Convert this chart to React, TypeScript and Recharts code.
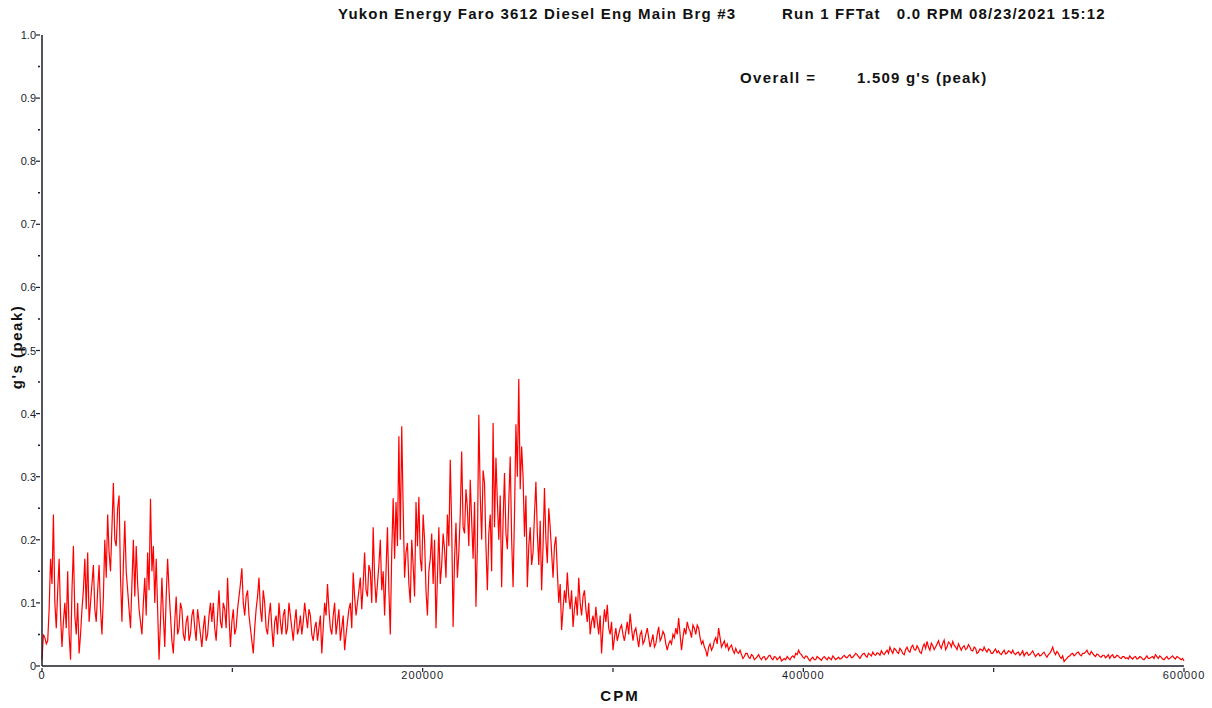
import { LineChart, Line, XAxis, YAxis } from "recharts";

// spectrum sampled every 750 CPM, 0 .. 600000 (one row = 30000 CPM)
const CPM_STEP = 750;
const peakG = [
  0.01,0.05, 0.045,0.035, 0.04,0.09, 0.17,0.13, 0.24,0.1, 0.06,0.12, 0.17,0.08, 0.03,0.07, 0.1,0.06, 0.15,0.05, 0.01,0.12, 0.19,0.08, 0.05,0.1, 0.02,0.05, 0.09,0.12, 0.17,0.09, 0.18,0.07, 0.1,0.13, 0.16,0.09, 0.07,0.12,
  0.16,0.09, 0.05,0.11, 0.2,0.14, 0.24,0.18, 0.15,0.22, 0.29,0.2, 0.19,0.25, 0.27,0.14, 0.07,0.16, 0.23,0.15, 0.12,0.09, 0.06,0.13, 0.2,0.11, 0.19,0.13, 0.09,0.07, 0.05,0.1, 0.14,0.08, 0.18,0.12, 0.265,0.15, 0.19,0.1,
  0.17,0.09, 0.01,0.07, 0.14,0.08, 0.03,0.11, 0.17,0.12, 0.08,0.04, 0.02,0.07, 0.11,0.05, 0.06,0.1, 0.09,0.05, 0.04,0.07, 0.08,0.04, 0.05,0.08, 0.09,0.06, 0.04,0.09, 0.07,0.05, 0.03,0.06, 0.08,0.04, 0.05,0.08, 0.1,0.07,
  0.1,0.06, 0.04,0.08, 0.12,0.07, 0.06,0.1, 0.09,0.06, 0.14,0.08, 0.03,0.07, 0.09,0.05, 0.06,0.09, 0.11,0.13, 0.155,0.1, 0.08,0.11, 0.12,0.08, 0.06,0.04, 0.02,0.06, 0.09,0.11, 0.14,0.09, 0.07,0.12, 0.1,0.06, 0.05,0.08,
  0.1,0.06, 0.03,0.07, 0.08,0.05, 0.1,0.07, 0.05,0.08, 0.09,0.05, 0.06,0.1, 0.08,0.06, 0.04,0.07, 0.09,0.05, 0.06,0.08, 0.05,0.07, 0.1,0.08, 0.06,0.09, 0.08,0.05, 0.04,0.06, 0.07,0.04, 0.06,0.08, 0.02,0.06, 0.1,0.08,
  0.13,0.09, 0.06,0.05, 0.08,0.1, 0.05,0.07, 0.09,0.04, 0.06,0.08, 0.025,0.05, 0.07,0.09, 0.1,0.06, 0.148,0.11, 0.08,0.1, 0.12,0.14, 0.09,0.13, 0.18,0.12, 0.11,0.16, 0.15,0.1, 0.22,0.14, 0.1,0.13, 0.16,0.2, 0.12,0.15,
  0.08,0.15, 0.22,0.12, 0.05,0.18, 0.266,0.17, 0.26,0.19, 0.364,0.2, 0.38,0.25, 0.14,0.18, 0.195,0.13, 0.1,0.2, 0.16,0.11, 0.26,0.19, 0.268,0.17, 0.15,0.24, 0.2,0.12, 0.08,0.15, 0.17,0.21, 0.13,0.2, 0.06,0.14, 0.22,0.13,
  0.16,0.21, 0.185,0.14, 0.24,0.19, 0.327,0.22, 0.062,0.17, 0.227,0.14, 0.18,0.24, 0.34,0.22, 0.21,0.28, 0.25,0.19, 0.295,0.23, 0.17,0.26, 0.094,0.19, 0.398,0.27, 0.2,0.31, 0.29,0.19, 0.12,0.21, 0.24,0.15, 0.385,0.22, 0.33,0.26,
  0.2,0.27, 0.125,0.23, 0.306,0.21, 0.185,0.26, 0.332,0.2, 0.125,0.24, 0.383,0.3, 0.455,0.28, 0.348,0.3, 0.205,0.27, 0.125,0.19, 0.22,0.16, 0.18,0.24, 0.292,0.21, 0.16,0.23, 0.12,0.19, 0.282,0.2, 0.163,0.25, 0.22,0.18, 0.14,0.19,
  0.205,0.15, 0.1,0.13, 0.057,0.09, 0.12,0.1, 0.148,0.11, 0.09,0.12, 0.062,0.09, 0.11,0.08, 0.14,0.1, 0.08,0.11, 0.12,0.09, 0.07,0.1, 0.05,0.07, 0.08,0.06, 0.094,0.07, 0.05,0.08, 0.02,0.06, 0.09,0.07, 0.097,0.06, 0.05,0.07,
  0.025,0.045, 0.06,0.04, 0.05,0.06, 0.065,0.05, 0.04,0.055, 0.07,0.05, 0.083,0.06, 0.04,0.055, 0.06,0.045, 0.03,0.05, 0.055,0.035, 0.04,0.05, 0.06,0.045, 0.03,0.04, 0.05,0.03, 0.035,0.05, 0.062,0.04, 0.045,0.055, 0.05,0.035, 0.025,0.035,
  0.04,0.035, 0.05,0.045, 0.06,0.05, 0.076,0.05, 0.025,0.045, 0.06,0.05, 0.07,0.06, 0.055,0.045, 0.065,0.06, 0.05,0.065, 0.06,0.045, 0.035,0.04, 0.03,0.025, 0.015,0.03, 0.035,0.025, 0.03,0.04, 0.045,0.035, 0.06,0.045, 0.03,0.035, 0.04,0.03,
  0.035,0.025, 0.03,0.033, 0.025,0.02, 0.028,0.022, 0.02,0.025, 0.018,0.012, 0.015,0.02, 0.02,0.014, 0.012,0.018, 0.016,0.01, 0.012,0.015, 0.018,0.013, 0.01,0.014, 0.015,0.01, 0.012,0.016, 0.017,0.012, 0.01,0.015, 0.014,0.01, 0.012,0.015, 0.008,0.01,
  0.012,0.01, 0.015,0.012, 0.01,0.014, 0.016,0.013, 0.02,0.018, 0.025,0.02, 0.018,0.014, 0.012,0.016, 0.015,0.011, 0.008,0.012, 0.014,0.01, 0.01,0.015, 0.013,0.011, 0.009,0.013, 0.015,0.012, 0.01,0.014, 0.012,0.01, 0.016,0.013, 0.01,0.012, 0.014,0.011,
  0.012,0.015, 0.017,0.014, 0.013,0.016, 0.018,0.013, 0.014,0.017, 0.02,0.018, 0.015,0.012, 0.016,0.019, 0.02,0.016, 0.014,0.02, 0.018,0.016, 0.022,0.018, 0.017,0.021, 0.02,0.017, 0.024,0.02, 0.018,0.022, 0.025,0.02, 0.03,0.024, 0.02,0.028, 0.026,0.022,
  0.02,0.028, 0.025,0.02, 0.018,0.026, 0.03,0.024, 0.022,0.03, 0.033,0.026, 0.025,0.032, 0.028,0.022, 0.02,0.03, 0.035,0.028, 0.039,0.03, 0.025,0.036, 0.032,0.026, 0.03,0.035, 0.04,0.032, 0.028,0.036, 0.041,0.026, 0.03,0.038, 0.036,0.03, 0.039,0.033,
  0.03,0.026, 0.035,0.03, 0.025,0.03, 0.032,0.026, 0.028,0.034, 0.03,0.025, 0.024,0.03, 0.028,0.02, 0.022,0.027, 0.026,0.024, 0.03,0.025, 0.022,0.027, 0.025,0.02, 0.02,0.024, 0.027,0.021, 0.024,0.02, 0.018,0.022, 0.025,0.019, 0.02,0.024, 0.023,0.02,
  0.025,0.02, 0.018,0.021, 0.022,0.017, 0.02,0.024, 0.016,0.02, 0.022,0.017, 0.018,0.021, 0.024,0.019, 0.015,0.018, 0.02,0.016, 0.017,0.02, 0.022,0.017, 0.014,0.018, 0.02,0.024, 0.03,0.022, 0.018,0.023, 0.02,0.015, 0.012,0.016, 0.007,0.01, 0.012,0.015,
  0.016,0.019, 0.02,0.016, 0.018,0.021, 0.022,0.018, 0.016,0.02, 0.02,0.022, 0.025,0.02, 0.018,0.023, 0.02,0.017, 0.015,0.019, 0.018,0.015, 0.014,0.017, 0.017,0.013, 0.015,0.018, 0.012,0.016, 0.018,0.013, 0.014,0.017, 0.016,0.013, 0.012,0.015, 0.015,0.012,
  0.013,0.011, 0.016,0.013, 0.011,0.014, 0.015,0.011, 0.012,0.015, 0.014,0.011, 0.01,0.013, 0.016,0.012, 0.012,0.014, 0.015,0.012, 0.018,0.015, 0.012,0.016, 0.014,0.011, 0.01,0.013, 0.015,0.011, 0.012,0.014, 0.016,0.013, 0.011,0.015, 0.014,0.012, 0.01,0.012, 0.008,
];

const xTicks = [0, 100000, 200000, 300000, 400000, 500000, 600000];
const xLabels = ["0", "", "200000", "", "400000", "", "600000"];
const yTicks = [0, 0.05, 0.1, 0.15, 0.2, 0.25, 0.3, 0.35, 0.4, 0.45, 0.5, 0.55, 0.6, 0.65, 0.7, 0.75, 0.8, 0.85, 0.9, 0.95, 1.0];

const title = "Yukon Energy Faro 3612 Diesel Eng Main Brg #3";
const runInfo = "Run 1 FFTat   0.0 RPM 08/23/2021 15:12";
const overallLabel = "Overall =";
const overallValue = "1.509 g's (peak)";

const data = peakG.map((g, i) => ({ cpm: i * CPM_STEP, g }));

const FONT = "'Liberation Sans', Arial, sans-serif";
const INK = "#1c1c2a";

function YTick(props: any) {
  const { x, y, payload } = props;
  const v: number = payload.value;
  const minor = Math.round(v * 100) % 10 !== 0;
  if (minor) {
    return <line x1={x - 2} x2={x} y1={y} y2={y} stroke={INK} strokeWidth={1.5} />;
  }
  return (
    <g>
      <line x1={x - 4} x2={x} y1={y} y2={y} stroke={INK} strokeWidth={1.2} />
      <text x={x - 4} y={y + 4} textAnchor="end" fontSize={11} fontFamily={FONT} fill={INK}>
        {v === 0 ? "0" : v.toFixed(1)}
      </text>
    </g>
  );
}

function XTick(props: any) {
  const { x, y, index } = props;
  const label = xLabels[index] ?? "";
  return (
    <g>
      <line x1={x} x2={x} y1={y} y2={y + 4} stroke={INK} strokeWidth={1.2} />
      {label && (
        <text x={x} y={y + 11} textAnchor="middle" fontSize={11} letterSpacing={1} fontFamily={FONT} fill={INK}>
          {label}
        </text>
      )}
    </g>
  );
}

export default function App() {
  return (
    <div style={{ position: "absolute", left: 0, top: 0, width: 1212, height: 708, background: "#fff" }}>
      <LineChart width={1212} height={708} data={data} margin={{ top: 35, right: 28, left: 2, bottom: 2 }}>
        <XAxis
          dataKey="cpm"
          type="number"
          domain={[0, 600000]}
          ticks={xTicks}
          interval={0}
          height={40}
          tickSize={0}
          tickLine={false}
          tick={<XTick />}
          axisLine={{ stroke: INK, strokeWidth: 1.5 }}
        />
        <YAxis
          type="number"
          domain={[0, 1]}
          ticks={yTicks}
          interval={0}
          width={40}
          tickSize={0}
          tickLine={false}
          tick={<YTick />}
          axisLine={{ stroke: INK, strokeWidth: 1.5 }}
        />
        <Line
          type="linear"
          dataKey="g"
          stroke="#ff0000"
          strokeWidth={1.2}
          dot={false}
          isAnimationActive={false}
        />
      </LineChart>
      <svg width={1212} height={708} style={{ position: "absolute", left: 0, top: 0, pointerEvents: "none" }}>
        <g fontFamily={FONT} fontWeight="bold" fill="#111" fontSize={15}>
          <text x={338} y={19} letterSpacing={1.2}>{title}</text>
          <text x={782} y={19} letterSpacing={1.2} xmlSpace="preserve" style={{ whiteSpace: "pre" }}>{runInfo}</text>
          <text x={740} y={83} letterSpacing={1.4}>{overallLabel}</text>
          <text x={857} y={83} letterSpacing={1.2}>{overallValue}</text>
          <text x={620} y={701} textAnchor="middle" letterSpacing={2}>CPM</text>
          <text x={22} y={347} textAnchor="middle" letterSpacing={1.5} transform="rotate(-90 22 347)">g's (peak)</text>
        </g>
      </svg>
    </div>
  );
}
